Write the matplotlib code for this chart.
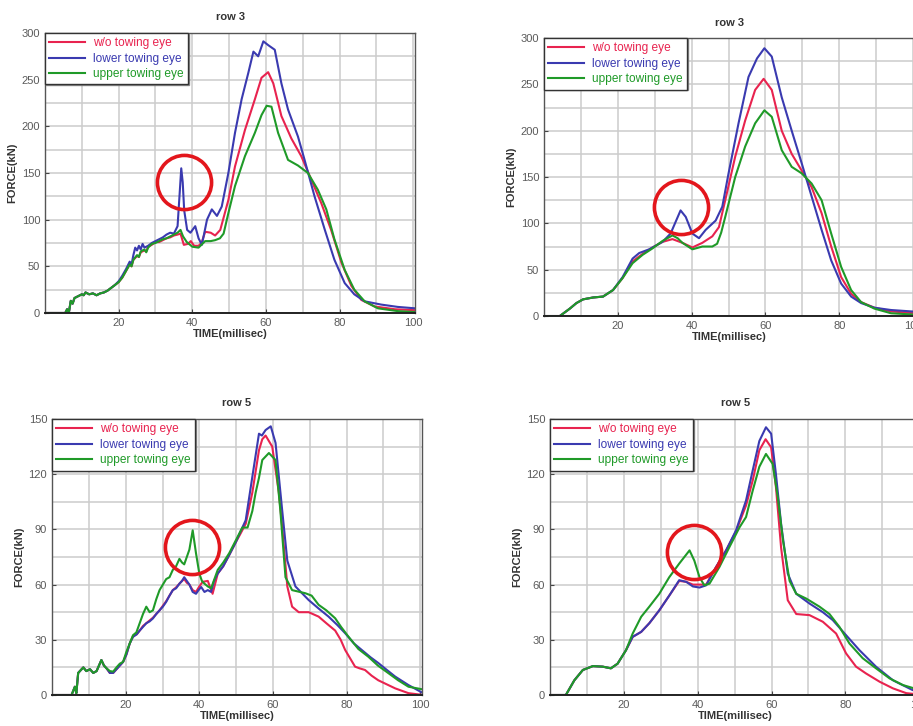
import matplotlib
matplotlib.use("Agg")
import matplotlib.pyplot as plt

plt.rcParams['font.family'] = ['Liberation Sans', 'DejaVu Sans']

labels = ['w/o towing eye', 'lower towing eye', 'upper towing eye']
colors = ['#e8234f', '#3a3ab0', '#1f9a28']

# row 3, raw signal (top left)
tl_green_t = [0, 5.5, 6, 6.5, 7, 7.5, 8, 9, 10, 10.5, 11, 12, 13, 14, 15, 16, 17, 18, 19, 20,
              21, 22, 23, 23.5, 24, 25, 25.5, 26, 27, 27.5, 28, 29, 30, 31, 32, 33, 34, 35, 36, 36.8,
              37.5, 38.5, 40, 41.7, 43.5, 45, 46.2, 47.5, 48.5, 49.8, 51.6, 54.3, 57, 58.8, 60.2, 61.5, 63.3, 66, 68.7, 71.4,
              74.1, 76.4, 78.6, 81.4, 84, 86.8, 90.4, 95.8, 100.5]
tl_green_f = [0, 0, 4, 1, 13, 10, 16, 18, 20, 19, 22, 20, 21, 19, 21, 22, 24, 27, 30, 33,
              38, 45, 52, 50, 57, 62, 60, 66, 68, 65, 70, 74, 75, 77, 79, 80, 82, 84, 86, 89,
              82, 76, 71, 70, 77, 77, 78, 80, 85, 107, 136, 168, 193, 212, 222, 221, 193, 164, 158, 150,
              132, 111, 79, 46, 25, 12.5, 5, 2, 1]
tl_red_t = [0, 5.5, 6, 6.5, 7, 7.5, 8, 9, 10, 10.5, 11, 12, 13, 14, 15, 16, 17, 18, 19, 20,
            21, 22, 23, 23.5, 24, 25, 25.5, 26, 27, 27.5, 28, 29, 30, 31, 32, 33, 34, 35, 36, 36.8,
            37.7, 38.8, 39.6, 40.5, 41.7, 42.5, 43.5, 45, 46.2, 47.6, 49.8, 51.6, 54.3, 57, 58.8, 60.6, 62, 64.2, 66.9, 69.6,
            72.3, 75, 77.7, 80.5, 83.2, 85.9, 89.5, 95, 100.5]
tl_red_f = [0, 0, 4, 1, 13, 10, 16, 18, 20, 19, 22, 20, 21, 19, 21, 22, 24, 27, 30, 33,
            38, 45, 52, 50, 57, 61, 60, 65, 67, 66, 71, 73, 76, 76, 78, 80, 81, 83, 84, 85,
            73, 74, 77, 72, 72, 75, 87, 86, 83, 89, 121, 157, 196, 229, 252, 258, 246, 211, 187, 168,
            143, 118, 89, 54, 29, 14, 7, 4, 3]
tl_blue_t = [0, 5.5, 6, 6.5, 7, 7.5, 8, 9, 10, 10.5, 11, 12, 13, 14, 15, 16, 17, 18, 19, 20,
             21, 22, 23, 23.5, 24, 24.5, 25, 25.5, 26, 26.5, 27, 28, 29, 30, 31, 32, 33, 34, 35, 36,
             36.6, 37, 37.4, 37.8, 38.6, 39.5, 40.8, 41.7, 42.6, 44, 45.3, 46.7, 48, 49.8, 51.6, 53.4, 55.2, 56.6, 57.9, 59.3,
             60.6, 62.4, 64.2, 66, 68.7, 70.5, 73.2, 76, 78.6, 81.4, 84, 86.8, 91.3, 95.8, 100.5]
tl_blue_f = [0, 0, 4, 1, 13, 10, 16, 18, 20, 19, 22, 20, 21, 19, 21, 22, 24, 27, 30, 34,
             40, 47, 55, 52, 62, 70, 67, 72, 68, 74, 70, 72, 75, 77, 79, 81, 84, 86, 85, 93,
             130, 155, 140, 110, 89, 86, 93, 80, 73, 100, 111, 104, 114, 150, 193, 229, 257, 280, 275, 291,
             287, 282, 246, 218, 189, 164, 125, 89, 57, 32, 20, 12.5, 9, 6.5, 5]

# row 3, filtered signal (top right)
tr_green_t = [0, 4.3, 7, 8.8, 10.6, 13.3, 16, 18.7, 21.3, 24, 26.7, 29.4, 32.1, 34.8, 36.2, 37.5, 40.2, 42.9, 45.6, 46.9,
              48, 49.1, 51.8, 54.5, 57.2, 59.7, 61.7, 64.4, 67.1, 69.8, 72.5, 75.2, 77.8, 80.5, 83.2, 85.9, 89.5, 94, 100.5]
tr_green_f = [0, 0, 8, 14, 18, 20, 21, 28, 41, 57, 66, 73, 81, 87, 84, 79, 72, 75, 75, 78,
              90, 107, 150, 183, 208, 222, 215, 179, 161, 154, 143, 125, 89, 53, 28, 15, 8, 3, 1.5]
tr_red_t = [0, 4.3, 7, 8.8, 10.6, 13.3, 16, 18.7, 21.3, 24, 26.7, 29.4, 32.1, 34.8, 37.5, 40.2, 42.9, 45.6, 47.4, 49.1,
            51.8, 54.5, 57.2, 59.5, 61.7, 64.4, 67.1, 69.8, 72.5, 75.2, 77.8, 80.5, 83.2, 85.9, 89.5, 94, 100.5]
tr_red_f = [0, 0, 8, 14, 18, 20, 21, 28, 41, 59, 67, 74, 80, 83, 79, 74, 79, 86, 96, 125,
            172, 211, 244, 256, 244, 200, 175, 157, 139, 111, 75, 42, 24, 15, 9, 5, 3]
tr_blue_t = [0, 4.3, 7, 8.8, 10.6, 13.3, 16, 18.7, 21.3, 24, 25.8, 28.5, 32.1, 34.3, 35.7, 37, 38.4, 40.2, 42, 43.8,
             46.5, 48.3, 50, 52.7, 55.4, 57.7, 59.7, 61.7, 64.4, 67.1, 69.8, 72.5, 75.2, 77.8, 80.5, 83.2, 85.9, 89.5, 94, 100.5]
tr_blue_f = [0, 0, 8, 14, 18, 20, 21, 28, 42, 62, 68, 72, 80, 89, 102, 114, 107, 89, 84, 93,
             103, 118, 154, 208, 258, 278, 289, 280, 236, 200, 165, 129, 93, 60, 35, 21, 14, 9, 6.5, 4.7]

# row 5, raw signal (bottom left)
bl_green_t = [0, 5.3, 6.2, 6.6, 7.1, 8.5, 9.3, 10.3, 11.2, 12.1, 13.4, 14.1, 14.8, 15.7, 16.6, 17.5, 18.4, 19.3, 20.2, 21.1,
              22, 22.9, 23.8, 24.7, 25.6, 26.5, 27.4, 28.3, 29.2, 30.1, 31, 31.9, 32.8, 33.7, 34.6, 35.3, 35.9, 36.6, 37.3, 38.2,
              39.1, 40, 40.7, 41.4, 42.3, 43.2, 44.1, 45, 46.5, 48.1, 49.9, 51.7, 53.1, 54.4, 55.3, 56.2, 57.1, 58.9, 60.7, 62,
              63.4, 65.2, 68.8, 70.5, 72.4, 74.5, 76.9, 78.5, 80.5, 83.2, 85.9, 88.5, 91.4, 94, 96.8, 100.8]
bl_green_f = [0, 0, 4.5, 1, 12, 15, 13, 14, 12, 13, 19, 16, 14.5, 13, 12.7, 15, 17, 18, 23.5, 28,
              32.5, 34, 39, 44, 48, 45, 46, 52, 57, 60, 63, 64, 68, 70, 74, 72, 71, 75, 79, 89.5,
              77, 66, 62, 60.5, 59, 58, 63, 68, 72, 77, 84, 91, 91, 100, 110, 118, 127.7, 131.5, 127.7, 100.5,
              64, 57, 55.3, 54, 49, 46, 41.7, 37, 31.7, 25, 20.8, 16, 11.8, 8, 4.5, 3]
bl_blue_t = [0, 5.3, 6.2, 6.6, 7.1, 8.5, 9.3, 10.3, 11.2, 12.1, 13.4, 14.1, 14.8, 15.7, 16.6, 17.5, 18.4, 19.3, 20.2, 21.1,
             22, 23, 23.8, 24.7, 25.6, 26.5, 27.4, 28.3, 29.2, 30.1, 31, 31.9, 32.8, 33.7, 34.6, 35.3, 35.9, 36.6, 37.3, 38.2,
             39.1, 39.8, 40.5, 41.4, 42.3, 43.2, 44, 45, 46.5, 48.1, 49.9, 51, 52.6, 54.4, 56.2, 57, 58, 59.4, 60.7, 62.5,
             63.9, 66.1, 69.7, 72.4, 75.1, 77.5, 79.6, 82, 84.1, 86.5, 88.6, 91, 93.2, 96.8, 100.8]
bl_blue_f = [0, 0, 4.5, 1, 12, 15, 13, 14, 12, 13, 19, 16, 14.5, 12, 12, 14, 16, 18, 22, 28,
             31.6, 33, 35, 37, 39, 40, 41.6, 44, 46, 48, 50.6, 54, 57, 58, 60.5, 62, 64, 62, 60, 56,
             55, 57, 58.7, 56, 57, 56, 62, 66, 70, 76, 83, 88, 95, 118.6, 142, 141, 144, 146, 137, 100.5,
             73, 59, 51.6, 47, 42.6, 38, 33.6, 28, 24.5, 20.5, 17.4, 13.5, 10, 5.4, 1]
bl_red_t = [0, 5.3, 6.2, 6.6, 7.1, 8.5, 9.3, 10.3, 11.2, 12.1, 13.4, 14.1, 14.8, 15.7, 16.6, 17.5, 18.4, 19.3, 20.2, 21.1,
            22, 23, 23.8, 24.7, 25.6, 26.5, 27.4, 28.3, 29.2, 30.1, 31, 31.9, 32.8, 33.7, 34.6, 35.3, 35.9, 36.6, 37.3, 38.2,
            39.1, 40, 40.9, 42.3, 43.6, 44.5, 45, 46.5, 48.1, 49.9, 51, 52.6, 54.4, 56.2, 57.1, 58, 59.8, 61.6, 62.5, 63.9,
            65.2, 67, 69.7, 72.4, 74.5, 76.9, 78.4, 79.6, 82.3, 83.5, 85, 86.8, 88.6, 93.2, 96.8, 100.8]
bl_red_f = [0, 0, 4.5, 1, 12, 15, 13, 14, 12, 13, 19, 16, 14.5, 12, 12, 14, 16, 18, 22, 28,
            32, 33, 35, 37.5, 39, 40.5, 42, 44, 46, 48.5, 51, 54, 57, 58.5, 60.5, 62, 63, 61, 60, 57,
            56, 59, 61.5, 62, 55, 62, 66, 70, 76, 83, 87, 93, 110, 133, 139, 141, 135, 110, 91.5, 59,
            48, 45, 45, 42.6, 39, 35, 30, 24.5, 15.4, 14.5, 13.6, 10.5, 8, 3.6, 1, 0]

# row 5, filtered signal (bottom right)
br_green_t = [0, 4.3, 6.6, 8.9, 11.6, 14.3, 16.5, 18.3, 20.6, 22.4, 24.7, 26.9, 29.6, 32.3, 35, 37.8, 39.1, 40.5, 41.8, 43.2,
              45.9, 48.6, 51.3, 53.1, 54.9, 56.7, 58.5, 60.3, 61.7, 63.1, 64.9, 66.7, 69.4, 73, 75.7, 78.4, 81.1, 84.7, 88.3, 92,
              95.6, 100.5]
br_green_f = [0, 0, 8, 13.6, 15.7, 15.4, 14.5, 17, 24.4, 33.4, 42.5, 48, 55, 64, 71.4, 78.6, 73, 64, 59.6, 60.5,
              69.6, 80.4, 91, 96.7, 111, 124, 131, 125.6, 107.5, 84, 62, 55, 52.4, 48, 44, 37, 28, 20, 14.5, 9,
              5.4, 2.5]
br_blue_t = [0, 4.3, 6.6, 8.9, 11.6, 14.3, 16.5, 18.3, 20.6, 22.4, 24.7, 26.9, 29.6, 32.3, 35, 36.9, 38.7, 40.5, 42.3, 45,
             47.7, 50.4, 53.1, 54.9, 56.7, 58.5, 59.9, 61.2, 62.6, 64.4, 66.7, 70.3, 73.9, 76.6, 80.2, 83.8, 88.3, 92.9, 98.2, 100.5]
br_blue_f = [0, 0, 8, 13.6, 15.7, 15.4, 14.5, 17, 24.4, 31.6, 34.3, 39, 46, 54, 62.4, 61.5, 59, 58.4, 59.6, 69.6,
             78.6, 89.5, 105.7, 122, 138, 145.5, 142, 120, 93, 66, 55, 49.7, 45, 40.7, 32.5, 24.4, 15.4, 8, 2.7, 1.5]
br_red_t = [0, 4.3, 6.6, 8.9, 11.6, 14.3, 16.5, 18.3, 20.6, 22.4, 24.7, 26.9, 29.6, 32.3, 35, 36.9, 38.7, 40.5, 42.3, 45,
            47.7, 50.4, 53.1, 54.9, 56.7, 58.4, 59.9, 61.2, 62.6, 64.4, 66.7, 70.3, 73.9, 77.5, 80.2, 82.9, 85.6, 89.3, 92.9, 96.5,
            100.5]
br_red_f = [0, 0, 8, 13.6, 15.7, 15.4, 14.5, 17, 24.4, 31.6, 34.3, 39, 46, 54, 62, 61.5, 60, 60, 60, 69.6,
            78.6, 89, 103, 116.5, 133, 139, 134.6, 113, 80, 51.5, 44, 43.4, 39.8, 33.4, 22.6, 15.4, 11.7, 7.2, 3.6, 1,
            0.2]

titles = ['row 3', 'row 3', 'row 5', 'row 5']
y_max = [300, 300, 150, 150]
y_major = [50, 50, 30, 30]
x_ticks = [20, 40, 60, 80, 100]
circle_t = [37.8, 37.0, 38.1, 39.0]
circle_f = [140, 118, 80.4, 77.7]

panels = [
    [(tl_red_t, tl_red_f), (tl_blue_t, tl_blue_f), (tl_green_t, tl_green_f)],
    [(tr_red_t, tr_red_f), (tr_blue_t, tr_blue_f), (tr_green_t, tr_green_f)],
    [(bl_red_t, bl_red_f), (bl_blue_t, bl_blue_f), (bl_green_t, bl_green_f)],
    [(br_red_t, br_red_f), (br_blue_t, br_blue_f), (br_green_t, br_green_f)],
]

fig = plt.figure(figsize=(9.13, 7.26), dpi=100)
rects = [
    [0.0493, 0.5689, 0.4053, 0.3857],
    [0.5958, 0.5647, 0.4064, 0.3829],
    [0.0570, 0.0427, 0.4053, 0.3802],
    [0.6024, 0.0427, 0.4064, 0.3802],
]

for i, rect in enumerate(rects):
    ax = fig.add_axes(rect)
    for (t, f), c, lab in zip(panels[i], colors, labels):
        ax.plot(t, f, color=c, lw=1.5, label=lab)

    # red circle marking the peak
    ax.plot([circle_t[i]], [circle_f[i]], 'o', ms=39, mfc='none', mec='#e3161c', mew=2.6, clip_on=False)

    ax.set_xlim(0, 100.5)
    ax.set_ylim(0, y_max[i])
    ax.set_xticks(x_ticks)
    ax.set_xticks([10, 30, 50, 70, 90], minor=True)
    ax.set_yticks(list(range(0, y_max[i] + 1, y_major[i])))
    ax.set_yticks(list(range(y_major[i] // 2, y_max[i], y_major[i])), minor=True)
    ax.grid(True, which='both', color='#cccccc', lw=1.1)
    ax.set_axisbelow(True)
    ax.tick_params(which='both', direction='in', length=3, labelsize=8, colors='#444', labelcolor='#5a5a5a')
    ax.tick_params(which='minor', length=0)
    for s in ax.spines.values():
        s.set_color('#555')
        s.set_linewidth(1.0)
    ax.spines['bottom'].set_color('#222')
    ax.spines['bottom'].set_linewidth(1.4)

    ax.set_title(titles[i], fontsize=8, fontweight='bold', color='#333', pad=9)
    ax.set_xlabel('TIME(millisec)', fontsize=8, fontweight='bold', color='#333', labelpad=1)
    ax.set_ylabel('FORCE(kN)', fontsize=8, fontweight='bold', color='#333', labelpad=3)

    leg = ax.legend(loc='upper left', fontsize=8.6, frameon=True, fancybox=False,
                    borderaxespad=0, borderpad=0.35, handlelength=3.0, handletextpad=0.7,
                    labelspacing=0.3,
                    shadow={'ox': 0.4, 'oy': -0.4, 'color': '#777', 'alpha': 0.8})
    leg.get_frame().set_edgecolor('#333')
    leg.get_frame().set_linewidth(1.0)
    for txt, c in zip(leg.get_texts(), colors):
        txt.set_color(c)

fig.savefig('out.png', dpi=100)
